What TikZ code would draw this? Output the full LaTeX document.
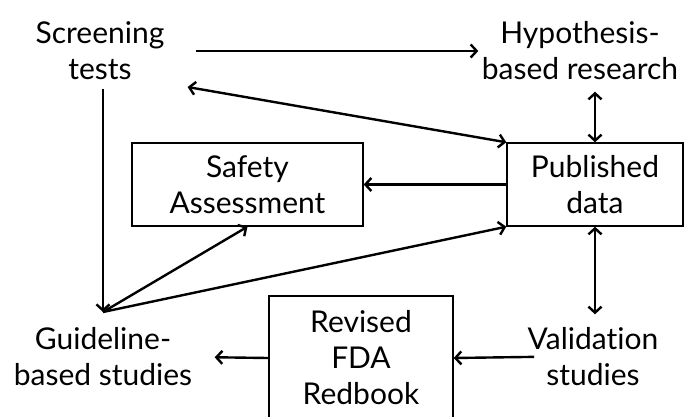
\documentclass[tikz,border=0pt]{standalone}
\usepackage{fontspec}
\setmainfont{Lato}[Ligatures=NoCommon]
\usetikzlibrary{arrows.meta}
\tikzset{
  box/.style={draw, line width=1.4pt, align=center},
  txt/.style={align=center},
  arr/.style={line width=2.4pt, -{Straight Barb[length=6pt,width=13pt]}},
  darr/.style={line width=2.4pt, {Straight Barb[length=6pt,width=13pt]}-{Straight Barb[length=6pt,width=13pt]}},
}
\begin{document}
\begin{tikzpicture}[x=1pt,y=-1pt,font=\fontsize{30}{36}\selectfont]
	 \useasboundingbox (0,0) rectangle (688,416);
	 \node[txt] (scr) at (100,51) {Screening\\tests};
	 \node[txt] (hyp) at (580,51) {Hypothesis-\\based research};
	 \node[box, minimum width=231pt, minimum height=83pt] (saf) at (247.5,184.5) {Safety\\Assessment};
	 \node[box, minimum width=176pt, minimum height=83pt] (pub) at (595,184.5) {Published\\data};
	 \node[box, minimum width=184pt, minimum height=124pt] (red) at (361,358) {Revised\\FDA\\Redbook};
	 \node[txt] (gui) at (103,357) {Guideline-\\based studies};
	 \node[txt] (val) at (593,357) {Validation\\studies};
	 \coordinate (hub) at (103,312);

	 \draw[arr, shorten <=28pt] (scr) -- (hyp);
	 \draw[darr, shorten <=20pt] (scr.south east) -- (pub.north west);
	 \draw[darr, shorten <=8pt] (hyp.south -| pub.north) -- (pub.north);
	 \draw[arr] (pub.west) -- (saf.east);
	 \draw[arr, shorten <=5pt] (scr.south -| hub) -- (hub);
	 \draw[arr] (hub) -- (saf.south);
	 \draw[arr] (hub) -- (pub.south west);
	 \draw[darr, shorten >=10pt] (pub.south) -- (pub.south |- val.north);
	 \draw[arr, shorten >=19pt] (red.west) -- (gui.east);
	 \draw[arr, shorten <=-10pt] (val.west) -- (red.east);
	\end{tikzpicture}
\end{document}
